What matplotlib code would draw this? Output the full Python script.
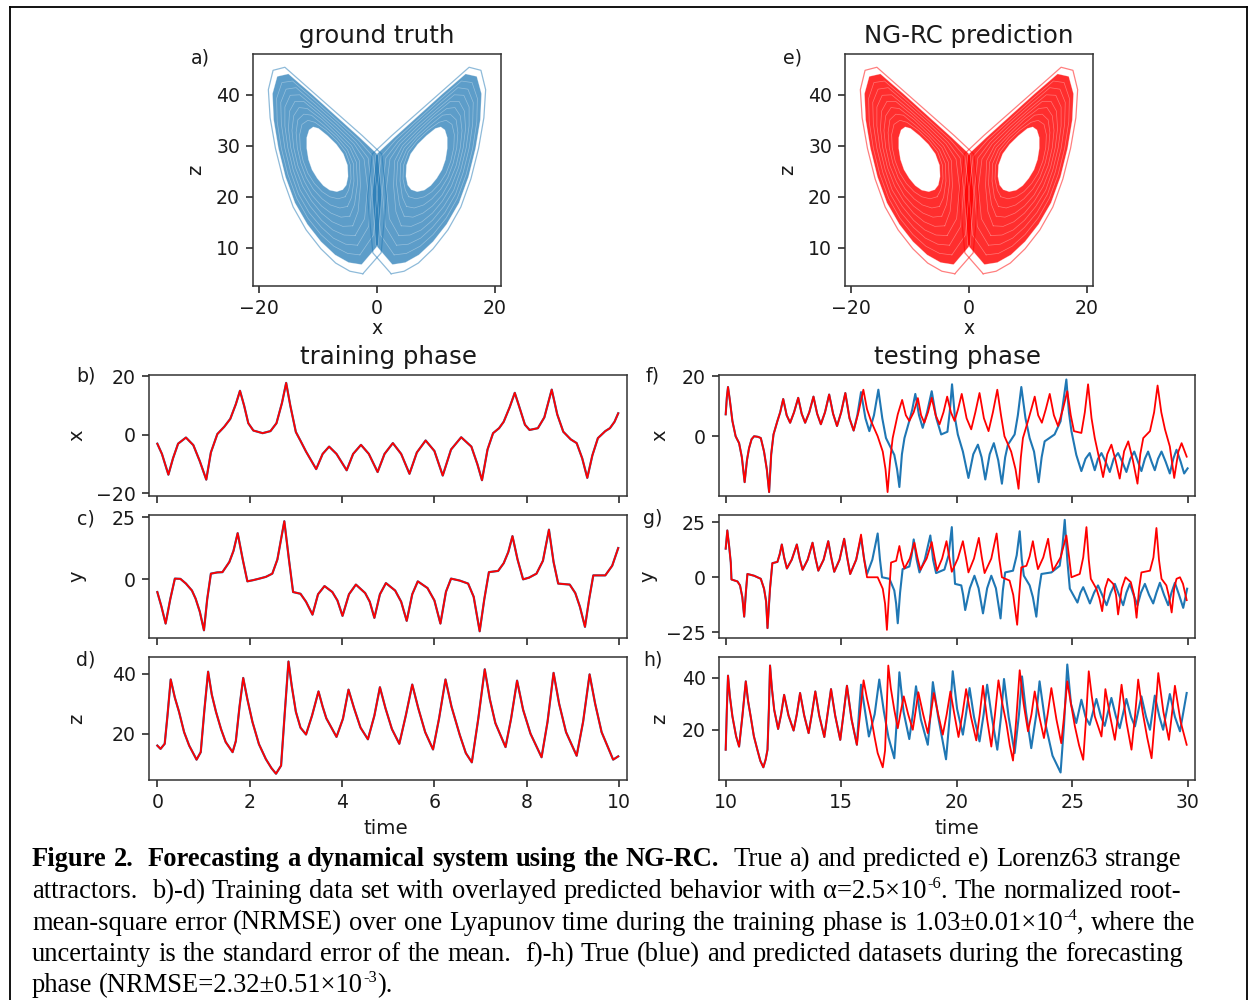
import re
import numpy as np
import matplotlib.pyplot as plt
from matplotlib.lines import Line2D
from matplotlib.path import Path
from matplotlib.patches import PathPatch

W, H = 1252, 1000
BLUE = '#1f77b4'
RED = '#ff0000'

# ---------------- data ----------------
# training phase, (time, value)
train_x = [(0.00, -3.0), (0.10, -6.5), (0.24, -13.6), (0.34, -8.0), (0.45, -3.0), (0.62, -0.9),
           (0.78, -3.5), (0.92, -9.0), (1.06, -15.3), (1.16, -6.0), (1.30, 0.3), (1.45, 2.8),
           (1.58, 5.5), (1.70, 10.5), (1.79, 15.1), (1.88, 10.0), (1.97, 4.0), (2.08, 1.5),
           (2.28, 0.6), (2.45, 1.3), (2.58, 4.0), (2.70, 11.0), (2.79, 17.8), (2.88, 10.0),
           (3.00, 1.0), (3.10, -2.0), (3.22, -5.7), (3.44, -11.7), (3.58, -6.5), (3.72, -4.0),
           (3.88, -6.5), (4.10, -12.1), (4.24, -6.5), (4.41, -3.4), (4.58, -6.5), (4.77, -12.7),
           (4.92, -6.5), (5.10, -2.8), (5.28, -6.5), (5.46, -13.3), (5.62, -6.0), (5.81, -1.9),
           (6.00, -5.5), (6.18, -13.9), (6.36, -5.0), (6.58, -0.8), (6.80, -4.0), (6.93, -10.0),
           (7.03, -15.5), (7.15, -5.0), (7.27, 0.6), (7.40, 2.3), (7.50, 4.5), (7.63, 9.5),
           (7.74, 14.4), (7.85, 9.0), (7.96, 3.5), (8.06, 1.7), (8.24, 2.3), (8.38, 6.0),
           (8.54, 15.5), (8.66, 7.0), (8.79, 1.1), (8.95, -1.5), (9.08, -2.8), (9.20, -8.0),
           (9.31, -14.7), (9.42, -7.0), (9.54, -1.1), (9.70, 1.3), (9.80, 2.3), (9.90, 4.5),
           (9.98, 7.4)]

train_y = [(0.00, -5.1), (0.09, -11.0), (0.18, -17.8), (0.28, -8.0), (0.38, 0.3), (0.50, 0.2),
           (0.62, -1.7), (0.75, -4.5), (0.83, -7.8), (0.92, -13.0), (1.01, -20.5), (1.08, -8.0),
           (1.16, 2.3), (1.30, 2.8), (1.41, 2.9), (1.56, 7.0), (1.65, 11.5), (1.74, 18.6),
           (1.85, 8.0), (1.95, -0.8), (2.08, -0.3), (2.21, 0.3), (2.35, 1.0), (2.49, 2.3),
           (2.60, 8.0), (2.75, 23.4), (2.85, 8.0), (2.94, -5.1), (3.10, -5.8), (3.22, -9.0),
           (3.36, -14.2), (3.48, -6.0), (3.62, -2.7), (3.79, -5.1), (3.90, -8.5), (4.01, -14.7),
           (4.15, -6.0), (4.30, -2.1), (4.50, -5.5), (4.60, -9.0), (4.70, -15.5), (4.82, -6.0),
           (4.95, -1.5), (5.15, -4.5), (5.28, -9.0), (5.40, -16.7), (5.52, -6.0), (5.64, -0.8),
           (5.85, -3.5), (6.00, -8.5), (6.13, -17.8), (6.25, -5.0), (6.36, 0.3), (6.55, -0.5),
           (6.73, -1.7), (6.85, -7.0), (6.98, -20.9), (7.08, -8.0), (7.18, 2.9), (7.38, 3.4),
           (7.50, 6.5), (7.60, 11.0), (7.69, 17.4), (7.80, 8.0), (7.92, 0.0), (8.05, 0.7),
           (8.21, 2.3), (8.35, 7.5), (8.48, 20.0), (8.58, 7.0), (8.68, -1.7), (8.93, -2.1),
           (9.05, -5.5), (9.15, -11.0), (9.26, -19.1), (9.35, -8.0), (9.44, 1.6), (9.70, 1.6),
           (9.85, 5.5), (9.98, 12.6)]

train_z = [(0.00, 16.0), (0.07, 14.9), (0.16, 16.6), (0.22, 26.0), (0.29, 38.1), (0.38, 32.0),
           (0.47, 27.3), (0.58, 20.5), (0.69, 16.0), (0.85, 11.3), (0.94, 13.8), (1.02, 28.0),
           (1.10, 40.7), (1.18, 33.0), (1.27, 27.3), (1.38, 21.5), (1.48, 17.2), (1.63, 13.8),
           (1.70, 17.5), (1.78, 29.0), (1.86, 38.6), (1.95, 31.5), (2.06, 23.9), (2.20, 16.5),
           (2.35, 11.5), (2.47, 8.5), (2.57, 6.6), (2.68, 9.3), (2.76, 27.0), (2.84, 44.1),
           (2.91, 36.0), (3.00, 27.3), (3.10, 22.0), (3.22, 19.7), (3.35, 26.0), (3.49, 34.1),
           (3.58, 29.0), (3.66, 25.1), (3.88, 18.9), (4.02, 25.0), (4.14, 34.7), (4.26, 28.5),
           (4.40, 22.0), (4.56, 18.1), (4.70, 26.0), (4.82, 35.5), (4.94, 28.5), (5.08, 21.5),
           (5.24, 16.6), (5.38, 26.0), (5.52, 36.4), (5.65, 28.5), (5.80, 20.5), (5.97, 14.7),
           (6.10, 25.0), (6.24, 38.1), (6.37, 29.0), (6.55, 19.5), (6.68, 13.5), (6.81, 10.4),
           (6.95, 25.0), (7.09, 41.5), (7.20, 31.5), (7.32, 23.5), (7.54, 15.5), (7.66, 25.0),
           (7.79, 37.7), (7.92, 28.0), (8.08, 20.0), (8.32, 12.1), (8.45, 24.0), (8.58, 40.3),
           (8.70, 30.0), (8.85, 20.5), (9.08, 12.6), (9.22, 24.0), (9.36, 39.8), (9.48, 30.0),
           (9.62, 20.5), (9.87, 11.3), (9.98, 12.4)]

# testing phase: common start, then true (blue) and predicted (red) continuations
test_x_start = [(10.00, 7.3), (10.05, 13.0), (10.10, 16.4), (10.18, 12.0), (10.29, 5.1), (10.43, 0.0),
                (10.58, -2.3), (10.70, -7.0), (10.82, -15.3), (10.92, -8.0), (11.01, -4.0), (11.12, -1.0),
                (11.23, 0.0), (11.40, -0.2), (11.52, -0.6), (11.66, -5.1), (11.78, -11.0), (11.88, -18.6),
                (11.97, -6.0), (12.07, 0.6), (12.24, 5.1), (12.36, 8.0), (12.49, 12.4), (12.64, 7.0),
                (12.79, 4.5), (12.96, 8.0), (13.14, 12.8), (13.29, 7.5), (13.44, 4.5), (13.62, 8.0),
                (13.80, 13.2), (13.96, 7.5), (14.12, 4.0), (14.30, 8.0), (14.48, 13.9), (14.65, 7.5),
                (14.82, 3.4), (15.00, 8.0), (15.18, 14.4), (15.36, 6.0), (15.54, 1.9)]
test_x_true = [(15.70, 7.0), (15.86, 14.7), (16.05, 6.0), (16.22, 1.7), (16.42, 7.0), (16.61, 15.5),
               (16.78, 6.0), (16.94, -0.6), (17.30, -6.2), (17.42, -11.0), (17.52, -16.9), (17.63, -6.0),
               (17.74, -0.6), (17.95, 5.1), (18.08, 9.0), (18.21, 14.1), (18.37, 7.0), (18.53, 2.8),
               (18.72, 8.0), (18.92, 15.0), (19.12, 6.0), (19.33, 0.6), (19.60, 1.5), (19.70, 8.0),
               (19.80, 17.3), (19.93, 6.0), (20.05, 0.6), (20.27, -5.1), (20.51, -13.9), (20.72, -6.0),
               (20.92, -2.8), (21.08, -7.0), (21.24, -14.4), (21.43, -6.0), (21.61, -2.3), (21.80, -8.0),
               (21.96, -15.8), (22.10, -7.0), (22.22, -2.8), (22.51, 0.6), (22.65, 7.0), (22.80, 16.4),
               (22.98, 6.0), (23.16, -0.6), (23.35, -5.1), (23.55, -15.3), (23.68, -7.0), (23.81, -1.7),
               (24.24, 0.6), (24.50, 5.0), (24.75, 18.9), (24.86, 8.0), (24.97, 1.7), (25.18, -6.2),
               (25.40, -11.6), (25.58, -7.5), (25.76, -5.6), (25.98, -11.3), (26.12, -7.5), (26.27, -5.6),
               (26.45, -8.5), (26.63, -11.9), (26.80, -7.5), (26.99, -5.6), (27.17, -8.5), (27.35, -11.9),
               (27.52, -7.5), (27.69, -5.1), (27.85, -8.5), (28.00, -11.6), (28.15, -7.5), (28.29, -5.1),
               (28.44, -8.5), (28.58, -11.3), (28.72, -7.5), (28.87, -5.1), (29.05, -8.5), (29.23, -12.4),
               (29.38, -7.5), (29.52, -4.5), (29.70, -8.5), (29.85, -12.4), (30.00, -10.7)]
test_x_pred = [(15.75, 8.0), (15.96, 15.5), (16.12, 9.0), (16.29, 5.1), (16.58, 0.0), (16.80, -5.1),
               (16.92, -11.0), (17.01, -18.6), (17.12, -8.0), (17.23, -0.6), (17.45, 7.3), (17.64, 12.1),
               (17.80, 7.0), (17.95, 5.1), (18.14, 8.0), (18.32, 12.7), (18.46, 7.0), (18.60, 4.5),
               (18.76, 8.0), (18.92, 12.8), (19.09, 7.0), (19.26, 4.0), (19.43, 8.0), (19.59, 13.2),
               (19.75, 8.0), (19.91, 5.1), (20.06, 9.0), (20.22, 14.1), (20.43, 6.0), (20.63, 2.3),
               (20.81, 8.0), (20.99, 14.4), (21.18, 6.0), (21.38, 1.7), (21.57, 8.0), (21.76, 15.5),
               (21.92, 7.0), (22.07, 0.0), (22.36, -5.1), (22.55, -11.0), (22.68, -17.5), (22.78, -7.0),
               (22.87, -0.6), (23.09, 5.1), (23.25, 9.5), (23.38, 13.2), (23.53, 7.0), (23.69, 4.5),
               (23.86, 9.0), (24.03, 14.1), (24.21, 7.0), (24.39, 3.4), (24.60, 9.0), (24.79, 15.0),
               (24.94, 7.0), (25.08, 1.7), (25.40, 1.1), (25.55, 8.0), (25.69, 17.3), (25.84, 6.0),
               (25.98, -0.6), (26.16, -7.0), (26.34, -13.6), (26.52, -6.0), (26.70, -2.8), (26.88, -8.0),
               (27.06, -14.1), (27.25, -5.0), (27.43, -1.7), (27.63, -8.0), (27.83, -15.8), (27.95, -6.0),
               (28.08, -0.6), (28.37, 1.7), (28.55, 8.0), (28.70, 16.9), (28.86, 8.0), (29.02, 2.3),
               (29.23, -3.4), (29.42, -13.9), (29.60, -5.1), (29.74, -2.3), (29.96, -6.8)]

test_y_start = [(10.00, 13.0), (10.07, 21.3), (10.15, 14.0), (10.22, 6.7), (10.25, -1.0), (10.51, -1.9),
                (10.62, -3.7), (10.72, -9.0), (10.80, -17.9), (10.88, -6.0), (10.94, 1.5), (11.23, 0.7),
                (11.52, -0.7), (11.66, -5.2), (11.75, -11.0), (11.81, -23.1), (11.92, -5.0), (12.02, 6.4),
                (12.24, 7.0), (12.34, 10.5), (12.43, 14.9), (12.53, 9.0), (12.65, 4.0), (12.86, 8.0),
                (13.08, 14.9), (13.20, 8.5), (13.33, 3.4), (13.55, 8.0), (13.76, 15.7), (13.88, 9.0),
                (14.01, 3.0), (14.24, 8.0), (14.44, 16.4), (14.57, 9.0), (14.70, 2.5), (14.93, 8.0),
                (15.13, 17.5), (15.26, 9.0), (15.39, 1.5)]
test_y_true = [(15.65, 8.0), (15.86, 18.0), (16.00, 8.0), (16.12, 1.5), (16.35, 8.0), (16.58, 19.9),
               (16.68, 8.0), (16.77, 0.0), (17.09, -0.7), (17.30, -6.0), (17.38, -12.0), (17.45, -20.9),
               (17.55, -7.0), (17.66, 3.7), (17.95, 4.9), (18.05, 10.0), (18.14, 17.2), (18.27, 8.0),
               (18.39, 2.2), (18.62, 8.0), (18.86, 19.0), (18.98, 8.0), (19.11, 1.9), (19.47, 3.5),
               (19.65, 10.0), (19.79, 22.8), (19.86, 8.0), (19.93, -3.0), (20.20, -3.7), (20.28, -8.0),
               (20.37, -14.9), (20.57, -5.0), (20.77, 0.7), (20.95, -5.0), (21.14, -16.4), (21.32, -5.0),
               (21.50, 0.7), (21.70, -5.0), (21.90, -18.7), (22.00, -6.0), (22.10, 2.2), (22.44, 3.0),
               (22.60, 10.0), (22.73, 20.9), (22.82, 8.0), (22.91, 0.7), (23.16, -3.7), (23.30, -9.0),
               (23.45, -17.9), (23.56, -6.0), (23.67, 1.5), (24.10, 2.2), (24.46, 5.2), (24.58, 14.0),
               (24.68, 26.1), (24.79, 8.0), (24.90, -5.2), (25.23, -11.5), (25.36, -7.0), (25.48, -4.5),
               (25.62, -8.0), (25.77, -11.9), (25.95, -7.0), (26.12, -3.7), (26.30, -8.0), (26.49, -12.7),
               (26.67, -7.0), (26.85, -3.0), (27.03, -8.0), (27.21, -12.7), (27.35, -7.0), (27.50, -3.0),
               (27.66, -8.0), (27.83, -12.7), (27.98, -7.0), (28.15, -3.0), (28.33, -8.0), (28.51, -11.9),
               (28.65, -7.0), (28.80, -2.5), (28.98, -8.0), (29.16, -12.7), (29.30, -7.0), (29.45, -2.5),
               (29.63, -8.0), (29.81, -13.9), (29.98, -5.2)]
test_y_pred = [(15.65, 8.0), (15.86, 19.4), (15.98, 9.0), (16.12, 0.0), (16.58, 0.0), (16.80, -5.2),
               (16.90, -12.0), (16.98, -23.9), (17.07, -8.0), (17.16, 6.7), (17.38, 7.5), (17.52, 14.2),
               (17.63, 8.0), (17.74, 4.0), (17.97, 8.5), (18.17, 15.7), (18.30, 9.0), (18.43, 3.4),
               (18.70, 8.5), (18.92, 16.0), (19.04, 9.0), (19.15, 3.0), (19.37, 8.5), (19.56, 16.4),
               (19.68, 9.0), (19.79, 2.5), (20.05, 8.5), (20.27, 16.4), (20.40, 9.0), (20.51, 2.2),
               (20.75, 8.5), (20.96, 17.9), (21.09, 9.0), (21.21, 1.9), (21.50, 8.5), (21.73, 19.9),
               (21.85, 8.0), (21.96, 0.0), (22.29, -1.5), (22.45, -8.0), (22.62, -21.6), (22.71, -8.0),
               (22.80, 4.5), (23.02, 5.2), (23.16, 9.5), (23.30, 16.4), (23.42, 9.0), (23.52, 3.7),
               (23.75, 9.0), (23.96, 17.5), (24.07, 9.0), (24.17, 3.0), (24.50, 9.0), (24.75, 19.0),
               (24.87, 9.0), (24.97, 0.0), (25.33, 1.5), (25.48, 9.0), (25.62, 22.8), (25.72, 8.0),
               (25.81, -0.7), (26.05, -5.2), (26.18, -9.5), (26.30, -15.4), (26.43, -5.0), (26.56, -0.7),
               (26.78, -3.0), (26.90, -8.0), (26.99, -16.9), (27.15, -5.0), (27.31, 0.0), (27.54, -2.2),
               (27.68, -8.0), (27.79, -18.4), (27.90, -5.0), (28.00, 2.2), (28.37, 3.0), (28.52, 9.0),
               (28.65, 22.4), (28.76, 8.0), (28.87, -0.7), (29.08, -3.7), (29.20, -9.0), (29.31, -16.0),
               (29.42, -5.0), (29.52, -0.7), (29.67, 0.0), (29.80, -3.0), (29.96, -10.4)]

test_z_start = [(10.00, 12.3), (10.05, 28.0), (10.10, 40.9), (10.18, 33.0), (10.29, 25.2), (10.45, 17.5),
                (10.58, 13.5), (10.72, 25.0), (10.87, 38.7), (10.97, 31.0), (11.08, 25.2), (11.22, 17.5),
                (11.37, 12.3), (11.50, 8.0), (11.63, 5.5), (11.73, 8.5), (11.81, 12.3), (11.87, 28.0),
                (11.92, 44.8), (12.00, 36.0), (12.10, 27.7), (12.27, 20.3), (12.40, 26.0), (12.53, 33.5),
                (12.72, 25.5), (12.94, 19.7), (13.08, 26.0), (13.22, 34.2), (13.40, 25.5), (13.59, 18.7),
                (13.73, 26.0), (13.88, 34.8), (14.05, 25.5), (14.27, 17.2), (14.41, 26.0), (14.56, 35.7),
                (14.74, 25.5), (14.96, 16.1), (15.10, 26.0), (15.25, 37.0), (15.45, 24.0), (15.68, 14.2)]
test_z_true = [(15.78, 28.0), (15.86, 37.4), (16.02, 28.0), (16.20, 17.4), (16.45, 26.0), (16.65, 39.4),
               (16.85, 27.0), (17.05, 17.0), (17.30, 9.0), (17.42, 25.0), (17.52, 42.2), (17.70, 27.0),
               (17.95, 16.4), (18.10, 26.0), (18.24, 36.8), (18.45, 24.0), (18.75, 14.2), (18.87, 26.0),
               (18.97, 38.4), (19.20, 25.0), (19.54, 8.6), (19.70, 25.0), (19.83, 42.6), (20.02, 28.0),
               (20.27, 18.1), (20.42, 27.0), (20.56, 36.1), (20.75, 25.0), (20.99, 15.5), (21.17, 26.0),
               (21.32, 37.4), (21.52, 25.0), (21.76, 12.3), (21.92, 25.0), (22.05, 39.6), (22.25, 25.0),
               (22.51, 11.0), (22.70, 26.0), (22.83, 40.6), (23.00, 27.0), (23.23, 12.9), (23.45, 26.0),
               (23.59, 38.7), (23.85, 22.0), (24.15, 10.0), (24.50, 3.5), (24.65, 22.0), (24.79, 45.2),
               (24.95, 30.0), (25.18, 22.6), (25.40, 31.6), (25.58, 25.0), (25.76, 21.9), (26.05, 31.9),
               (26.25, 25.0), (26.41, 21.5), (26.70, 32.3), (26.90, 25.0), (27.06, 20.6), (27.35, 31.9),
               (27.55, 25.0), (27.72, 21.3), (28.00, 32.9), (28.20, 25.0), (28.37, 20.0), (28.58, 33.2),
               (28.78, 25.0), (28.94, 20.0), (29.23, 33.8), (29.45, 25.0), (29.67, 19.4), (29.96, 34.2)]
test_z_pred = [(15.83, 27.0), (15.97, 39.1), (16.12, 32.0), (16.29, 25.2), (16.45, 17.0), (16.58, 11.0),
               (16.80, 5.5), (16.90, 12.0), (16.97, 28.0), (17.04, 44.8), (17.15, 36.0), (17.30, 27.7),
               (17.45, 20.6), (17.58, 27.0), (17.71, 32.9), (17.90, 26.0), (18.10, 20.0), (18.22, 27.0),
               (18.34, 34.5), (18.55, 26.0), (18.75, 18.7), (18.88, 26.0), (19.01, 34.2), (19.20, 26.0),
               (19.40, 18.1), (19.57, 26.0), (19.73, 34.8), (19.90, 26.0), (20.08, 17.2), (20.25, 26.0),
               (20.41, 35.7), (20.62, 25.0), (20.85, 15.9), (21.00, 26.0), (21.14, 37.0), (21.32, 24.0),
               (21.50, 13.5), (21.66, 26.0), (21.81, 39.1), (21.98, 30.0), (22.15, 22.6), (22.30, 14.0),
               (22.44, 8.1), (22.58, 24.0), (22.73, 43.0), (22.90, 30.0), (23.09, 19.4), (23.24, 26.0),
               (23.38, 34.8), (23.58, 25.0), (23.78, 16.8), (23.94, 26.0), (24.10, 36.1), (24.32, 24.0),
               (24.53, 14.8), (24.66, 26.0), (24.79, 38.7), (24.95, 30.0), (25.12, 21.3), (25.30, 14.0),
               (25.48, 8.4), (25.60, 24.0), (25.72, 42.6), (25.85, 33.0), (25.98, 25.2), (26.27, 17.4),
               (26.36, 26.0), (26.44, 35.7), (26.65, 25.0), (26.85, 16.1), (27.00, 26.0), (27.14, 37.4),
               (27.35, 23.0), (27.57, 12.3), (27.72, 25.0), (27.86, 39.4), (28.05, 27.0), (28.25, 17.0),
               (28.44, 9.0), (28.58, 24.0), (28.73, 41.9), (28.95, 27.0), (29.19, 16.1), (29.32, 26.0),
               (29.45, 37.0), (29.70, 23.0), (29.96, 14.2)]

# attractor loops in the (x, z) plane, from the hole outwards, one list per wing
attr_right = [
    [(5.8, 21.4), (6.8, 21.0), (8.0, 21.3), (9.1, 22.2), (10.1, 23.6), (11.0, 25.3), (11.6, 27.3), (11.9, 29.5), (11.9, 31.6),
     (11.5, 33.1), (10.8, 33.7), (9.9, 33.4), (8.4, 32.0), (6.9, 30.3), (5.7, 28.4), (5.0, 26.2), (4.9, 24.0), (5.2, 22.3)],
    [(5.4, 20.0), (6.6, 19.6), (8.0, 20.0), (9.3, 21.0), (10.6, 22.6), (11.7, 24.6), (12.5, 27.0), (13.0, 29.6), (13.1, 32.2),
     (12.7, 34.2), (11.7, 35.0), (10.5, 34.6), (8.6, 33.0), (6.8, 31.0), (5.3, 28.8), (4.5, 26.2), (4.4, 23.5), (4.8, 21.3)],
    [(5.0, 18.1), (6.3, 17.8), (7.9, 18.4), (9.3, 19.6), (10.8, 21.5), (12.0, 23.8), (12.9, 26.6), (13.5, 29.6), (13.7, 32.6),
     (13.4, 35.1), (12.4, 36.2), (11.1, 36.0), (9.0, 34.0), (6.8, 31.7), (5.0, 29.2), (4.0, 26.5), (3.9, 23.1), (4.3, 19.9)],
    [(4.6, 16.2), (6.1, 16.0), (7.8, 16.8), (9.4, 18.2), (11.0, 20.3), (12.3, 23.0), (13.4, 26.1), (14.1, 29.6), (14.4, 33.0),
     (14.1, 35.9), (13.2, 37.5), (11.8, 37.3), (9.3, 35.1), (6.9, 32.4), (4.6, 29.6), (3.5, 26.8), (3.3, 22.6), (3.8, 18.5)],
    [(4.1, 14.3), (5.8, 14.2), (7.6, 15.1), (9.4, 16.8), (11.1, 19.2), (12.6, 22.1), (13.8, 25.7), (14.6, 29.6), (15.0, 33.4),
     (14.8, 36.8), (13.9, 38.7), (12.4, 38.7), (9.7, 36.1), (6.9, 33.1), (4.3, 30.0), (3.0, 27.1), (2.8, 22.2), (3.2, 17.1)],
    [(3.7, 12.4), (5.6, 12.5), (7.5, 13.5), (9.4, 15.4), (11.3, 18.1), (13.0, 21.3), (14.2, 25.3), (15.1, 29.6), (15.6, 33.9),
     (15.6, 37.6), (14.7, 39.9), (13.1, 40.0), (10.1, 37.1), (6.9, 33.8), (3.9, 30.4), (2.2, 27.4), (1.6, 21.8), (2.1, 15.7)],
    [(3.3, 10.5), (5.3, 10.7), (7.4, 11.9), (9.4, 14.0), (11.5, 16.9), (13.3, 20.5), (14.6, 24.8), (15.6, 29.5), (16.2, 34.3),
     (16.3, 38.5), (15.4, 41.1), (13.7, 41.4), (10.4, 38.1), (6.9, 34.5), (3.6, 30.8), (1.5, 27.6), (0.9, 21.3), (1.4, 14.2)],
    [(2.9, 8.6), (5.0, 8.9), (7.3, 10.3), (9.5, 12.6), (11.7, 15.8), (13.6, 19.7), (15.1, 24.4), (16.2, 29.5), (16.9, 34.7),
     (17.0, 39.3), (16.1, 42.4), (14.3, 42.7), (10.8, 39.2), (7.0, 35.2), (3.2, 31.2), (0.7, 27.9), (0.0, 20.9), (0.6, 12.5)],
    [(2.6, 6.7), (4.8, 7.1), (7.1, 8.6), (9.5, 11.2), (11.8, 14.6), (13.9, 18.8), (15.5, 23.9), (16.7, 29.5), (17.5, 35.1),
     (17.7, 40.2), (16.9, 43.6), (15.0, 44.1), (11.1, 40.2), (7.0, 35.9), (2.9, 31.6), (-0.2, 28.2), (-0.8, 20.4), (-0.2, 10.5)],
    [(2.4, 4.9), (4.6, 5.4), (7.0, 7.0), (9.5, 9.8), (12.0, 13.5), (14.2, 18.0), (15.9, 23.5), (17.2, 29.5), (18.1, 35.5),
     (18.4, 41.0), (17.6, 44.8), (15.6, 45.4), (11.5, 41.2), (7.0, 36.6), (2.5, 32.0), (-0.8, 28.4), (-1.6, 20.0), (-0.7, 9.0)],
]
attr_left = [
    [(-5.8, 21.4), (-6.8, 21.0), (-8.0, 21.3), (-9.1, 22.2), (-10.1, 23.6), (-11.0, 25.3), (-11.6, 27.3), (-11.9, 29.5), (-11.9, 31.6),
     (-11.5, 33.1), (-10.8, 33.7), (-9.9, 33.4), (-8.4, 32.0), (-6.9, 30.3), (-5.7, 28.4), (-5.0, 26.2), (-4.9, 24.0), (-5.2, 22.3)],
    [(-5.4, 20.0), (-6.6, 19.6), (-8.0, 20.0), (-9.3, 21.0), (-10.6, 22.6), (-11.7, 24.6), (-12.5, 27.0), (-13.0, 29.6), (-13.1, 32.2),
     (-12.7, 34.2), (-11.7, 35.0), (-10.5, 34.6), (-8.6, 33.0), (-6.8, 31.0), (-5.3, 28.8), (-4.5, 26.2), (-4.4, 23.5), (-4.8, 21.3)],
    [(-5.0, 18.1), (-6.3, 17.8), (-7.9, 18.4), (-9.3, 19.6), (-10.8, 21.5), (-12.0, 23.8), (-12.9, 26.6), (-13.5, 29.6), (-13.7, 32.6),
     (-13.4, 35.1), (-12.4, 36.2), (-11.1, 36.0), (-9.0, 34.0), (-6.8, 31.7), (-5.0, 29.2), (-4.0, 26.5), (-3.9, 23.1), (-4.3, 19.9)],
    [(-4.6, 16.2), (-6.1, 16.0), (-7.8, 16.8), (-9.4, 18.2), (-11.0, 20.3), (-12.3, 23.0), (-13.4, 26.1), (-14.1, 29.6), (-14.4, 33.0),
     (-14.1, 35.9), (-13.2, 37.5), (-11.8, 37.3), (-9.3, 35.1), (-6.9, 32.4), (-4.6, 29.6), (-3.5, 26.8), (-3.3, 22.6), (-3.8, 18.5)],
    [(-4.1, 14.3), (-5.8, 14.2), (-7.6, 15.1), (-9.4, 16.8), (-11.1, 19.2), (-12.6, 22.1), (-13.8, 25.7), (-14.6, 29.6), (-15.0, 33.4),
     (-14.8, 36.8), (-13.9, 38.7), (-12.4, 38.7), (-9.7, 36.1), (-6.9, 33.1), (-4.3, 30.0), (-3.0, 27.1), (-2.8, 22.2), (-3.2, 17.1)],
    [(-3.7, 12.4), (-5.6, 12.5), (-7.5, 13.5), (-9.4, 15.4), (-11.3, 18.1), (-13.0, 21.3), (-14.2, 25.3), (-15.1, 29.6), (-15.6, 33.9),
     (-15.6, 37.6), (-14.7, 39.9), (-13.1, 40.0), (-10.1, 37.1), (-6.9, 33.8), (-3.9, 30.4), (-2.2, 27.4), (-1.6, 21.8), (-2.1, 15.7)],
    [(-3.3, 10.5), (-5.3, 10.7), (-7.4, 11.9), (-9.4, 14.0), (-11.5, 16.9), (-13.3, 20.5), (-14.6, 24.8), (-15.6, 29.5), (-16.2, 34.3),
     (-16.3, 38.5), (-15.4, 41.1), (-13.7, 41.4), (-10.4, 38.1), (-6.9, 34.5), (-3.6, 30.8), (-1.5, 27.6), (-0.9, 21.3), (-1.4, 14.2)],
    [(-2.9, 8.6), (-5.0, 8.9), (-7.3, 10.3), (-9.5, 12.6), (-11.7, 15.8), (-13.6, 19.7), (-15.1, 24.4), (-16.2, 29.5), (-16.9, 34.7),
     (-17.0, 39.3), (-16.1, 42.4), (-14.3, 42.7), (-10.8, 39.2), (-7.0, 35.2), (-3.2, 31.2), (-0.7, 27.9), (-0.0, 20.9), (-0.6, 12.5)],
    [(-2.6, 6.7), (-4.8, 7.1), (-7.1, 8.6), (-9.5, 11.2), (-11.8, 14.6), (-13.9, 18.8), (-15.5, 23.9), (-16.7, 29.5), (-17.5, 35.1),
     (-17.7, 40.2), (-16.9, 43.6), (-15.0, 44.1), (-11.1, 40.2), (-7.0, 35.9), (-2.9, 31.6), (0.2, 28.2), (0.8, 20.4), (0.2, 10.5)],
    [(-2.4, 4.9), (-4.6, 5.4), (-7.0, 7.0), (-9.5, 9.8), (-12.0, 13.5), (-14.2, 18.0), (-15.9, 23.5), (-17.2, 29.5), (-18.1, 35.5),
     (-18.4, 41.0), (-17.6, 44.8), (-15.6, 45.4), (-11.5, 41.2), (-7.0, 36.6), (-2.5, 32.0), (0.8, 28.4), (1.6, 20.0), (0.7, 9.0)],
]

caption_lines = [
    "Figure 2.  Forecasting a dynamical system using the NG-RC.  True a) and predicted e) Lorenz63 strange",
    "attractors.  b)-d) Training data set with overlayed predicted behavior with \u03b1=2.5\u00d710^{-6}. The normalized root-",
    "mean-square error (NRMSE) over one Lyapunov time during the training phase is 1.03\u00b10.01\u00d710^{-4}, where the",
    "uncertainty is the standard error of the mean.  f)-h) True (blue) and predicted datasets during the forecasting",
    "phase (NRMSE=2.32\u00b10.51\u00d710^{-3}).",
]
caption_bold_words = 9
caption_right = [1181, 1181, 1195, 1183, None]
caption_base = [866.5, 898, 929.5, 960.7, 992]

# ---------------- figure ----------------
plt.rcParams['font.family'] = ['DejaVu Sans']

fig = plt.figure(figsize=(W / 100, H / 100), dpi=100)
TXT = '#1a1a1a'
FS = 13.6
TITLE_FS = 17.6


def rect(l, t, r, b):
    return [l / W, 1 - b / H, (r - l) / W, (b - t) / H]


def ptext(x, y, s, **kw):
    kw.setdefault('fontsize', FS)
    kw.setdefault('color', TXT)
    return fig.text(x / W, 1 - y / H, s, ha=kw.pop('ha', 'center'), va=kw.pop('va', 'center'), **kw)


def style(ax, ylim, yticks, xlim, xticks, xlabels=True):
    ax.set_xlim(*xlim)
    ax.set_ylim(*ylim)
    ax.set_xticks(xticks)
    ax.set_yticks(yticks)
    if not xlabels:
        ax.set_xticklabels([])
    ax.tick_params(labelsize=FS, length=4.8, width=1.1, pad=4.5, colors=TXT)
    for s in ax.spines.values():
        s.set_linewidth(1.1)
        s.set_color('#333333')


def series(pairs):
    a = np.array(pairs)
    return a[:, 0], a[:, 1]


def band(inner, outer):
    # ring between two loops: outer one way round, inner the other way
    o = np.array(outer + outer[:1])
    i = np.array(inner[::-1] + inner[-1:])
    verts = np.vstack([o, i])
    codes = ([Path.MOVETO] + [Path.LINETO] * (len(o) - 2) + [Path.CLOSEPOLY] +
             [Path.MOVETO] + [Path.LINETO] * (len(i) - 2) + [Path.CLOSEPOLY])
    return Path(verts, codes)


# attractors
for box, col, lab, title, ax_lab, fa in [((253, 54, 501, 286), BLUE, 'a)', 'ground truth', 196, 0.72),
                                         ((845, 54, 1093, 286), RED, 'e)', 'NG-RC prediction', 788, 0.82)]:
    ax = fig.add_axes(rect(*box))
    for wing in (attr_right, attr_left):
        ax.add_patch(PathPatch(band(wing[0], wing[-2]), facecolor=col, edgecolor='none', alpha=fa))
    for lr, ll in zip(attr_right, attr_left):
        outer = lr is attr_right[-1]
        for loop in (lr, ll):
            p = np.array(loop + loop[:1])
            ax.plot(p[:, 0], p[:, 1], color=col if outer else 'white',
                    lw=0.9 if outer else 0.5, alpha=0.5 if outer else 0.35)
    style(ax, (2.5, 48.0), [10, 20, 30, 40], (-21, 21), [-20, 0, 20])
    ax.set_title(title, fontsize=TITLE_FS, pad=8, color=TXT)
    cx = (box[0] + box[2]) / 2
    ptext(cx, 329, 'x', fontsize=13.6)
    ptext(ax_lab, 170, 'z', rotation=90, fontsize=14)
    ptext(box[0] - 53, 58, lab)

# time series
rows = [
    ('x', 375, 496, train_x, test_x_start, test_x_true, test_x_pred,
     (-20.9, 20.5), [-20, 0, 20], (-19.9, 20.4), [0, 20], 'b)', 'f)', 660, 376),
    ('y', 515, 638, train_y, test_y_start, test_y_true, test_y_pred,
     (-23.6, 25.9), [0, 25], (-27.6, 28.3), [-25, 0, 25], 'c)', 'g)', 648, 519),
    ('z', 657, 780, train_z, test_z_start, test_z_true, test_z_pred,
     (4.5, 45.6), [20, 40], (0.6, 48.1), [20, 40], 'd)', 'h)', 660, 660),
]
for i, (var, top, bot, tr, st, tt, tp, ylim_l, yt_l, ylim_r, yt_r, lab_l, lab_r, ylab_rx, lab_y) in enumerate(rows):
    last = i == len(rows) - 1
    axl = fig.add_axes(rect(149, top, 627, bot))
    t, v = series(tr)
    axl.plot(t, v, color=BLUE, lw=1.6)
    axl.plot(t, v, color=RED, lw=1.3)
    style(axl, ylim_l, yt_l, (-0.18, 10.17), [0, 2, 4, 6, 8, 10], xlabels=last)

    axr = fig.add_axes(rect(719, top, 1195, bot))
    t1, v1 = series(st + tt)
    t2, v2 = series(st + tp)
    axr.plot(t1, v1, color=BLUE, lw=1.5)
    axr.plot(t2, v2, color=RED, lw=1.3)
    style(axr, ylim_r, yt_r, (9.71, 30.32), [10, 15, 20, 25, 30], xlabels=last)

    if i == 0:
        axl.set_title('training phase', fontsize=TITLE_FS, pad=8, color=TXT)
        axr.set_title('testing phase', fontsize=TITLE_FS, pad=8, color=TXT)
    mid = (top + bot) / 2
    ptext(77, mid, var, rotation=90, fontsize=14)
    ptext(ylab_rx, mid, var, rotation=90, fontsize=14)
    ptext(86, lab_y, lab_l)
    ptext(653, lab_y, lab_r)

ptext(386, 829, 'time', fontsize=14.3)
ptext(957, 829, 'time', fontsize=14.3)

# caption, justified word by word; ^{..} marks a superscript
renderer = fig.canvas.get_renderer()
CAP_FS = 19.1
SUP_FS = CAP_FS * 0.62
SUP_RISE = 10.0
for li, line in enumerate(caption_lines):
    tokens = line.split(' ')
    words, weights = [], []
    gap = 0
    for tok in tokens:
        if tok == '':
            gap += 1
            continue
        weights.append(gap + 1 if words else 0)
        words.append(tok)
        gap = 0
    groups, widths = [], []
    for wi, wd in enumerate(words):
        bold = li == 0 and wi < caption_bold_words
        m = re.match(r'(.*?)\^\{(.*?)\}(.*)$', wd)
        pieces = [(m.group(1), False), (m.group(2), True), (m.group(3), False)] if m else [(wd, False)]
        arts = []
        for txt, sup in pieces:
            if not txt:
                continue
            a = fig.text(0, 1 - (caption_base[li] - (SUP_RISE if sup else 0)) / H, txt,
                         fontsize=SUP_FS if sup else CAP_FS, family='Liberation Serif',
                         weight='bold' if bold else 'normal', color='black', ha='left', va='baseline')
            arts.append((a, a.get_window_extent(renderer=renderer).width))
        groups.append(arts)
        widths.append(sum(w for _, w in arts))
    if caption_right[li] is None:
        sp = CAP_FS * 0.25 * 100 / 72
    else:
        sp = (caption_right[li] - 32 - sum(widths)) / sum(weights)
    x = 32.0
    for arts, wt in zip(groups, weights):
        x += wt * sp
        for a, w in arts:
            a.set_x(x / W)
            x += w

# frame around the figure
for xs, ys in [((10, 10), (7, 1000)), ((10, 1247), (7, 7)), ((1247, 1247), (7, 1000))]:
    fig.add_artist(Line2D([v / W for v in xs], [1 - v / H for v in ys], color='black', lw=1.3))

fig.savefig('out.png', dpi=100)
